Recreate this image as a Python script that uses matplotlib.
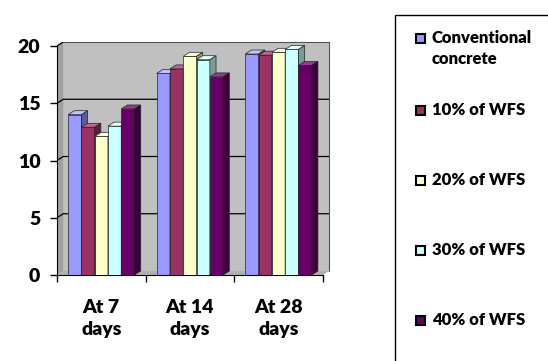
import matplotlib.pyplot as plt
from matplotlib.patches import Polygon, Rectangle

plt.rcParams['font.family'] = ['Lato', 'DejaVu Sans']
plt.rcParams['font.weight'] = 'heavy'

categories = ['At 7\ndays', 'At 14\ndays', 'At 28\ndays']
series_names = ['Conventional\nconcrete', '10% of WFS', '20% of WFS', '30% of WFS', '40% of WFS']
conventional = [14.0, 17.6, 19.3]
wfs_10 = [12.9, 18.0, 19.2]
wfs_20 = [12.1, 19.1, 19.45]
wfs_30 = [13.0, 18.8, 19.7]
wfs_40 = [14.5, 17.3, 18.3]
series = [conventional, wfs_10, wfs_20, wfs_30, wfs_40]
colors = ['#9999FF', '#993366', '#FFFFCC', '#CCFFFF', '#660066']
tops = ['#C2C2FF', '#B8668F', '#FFFFE6', '#E6FFFF', '#8C408C']
sides = ['#5C5C99', '#5C1F3D', '#99997A', '#7A9999', '#3D003D']

W, H = 548, 361
fig = plt.figure(figsize=(W / 100, H / 100), dpi=100)
ax = fig.add_axes([57 / W, 86 / H, 272 / W, 233 / H])

dx, dy = 0.07, 0.35
ymax = 20 + dy
xmax = 3 + dx
ax.set_xlim(0, xmax)
ax.set_ylim(0, ymax)
ax.set_facecolor('none')

# walls and floor of the 3D box
ax.add_patch(Polygon([(dx, dy), (xmax, dy), (xmax, ymax), (dx, ymax)],
                     closed=True, fc='#C0C0C0', ec='none', zorder=0))
ax.add_patch(Polygon([(0, 0), (dx, dy), (dx, ymax), (0, 20)],
                     closed=True, fc='#A0A0A0', ec='none', zorder=0))
ax.add_patch(Polygon([(0, 0), (3, 0), (xmax, dy), (dx, dy)],
                     closed=True, fc='#B0B0B0', ec='none', zorder=0.5))
for v in [5, 10, 15, 20]:
    ax.plot([0, dx, xmax], [v, v + dy, v + dy], color='#000000', lw=0.9, zorder=1)

bw = 0.15
for g in range(3):
    start = g + 0.5 - bw * len(series) / 2
    for i, vals in enumerate(series):
        x0 = start + i * bw
        h = vals[g]
        z = 2 + i
        ax.bar(x0, h, width=bw, align='edge', color=colors[i],
               edgecolor='#222222', lw=0.5, zorder=z)
        ax.add_patch(Polygon([(x0, h), (x0 + bw, h), (x0 + bw + dx, h + dy), (x0 + dx, h + dy)],
                             closed=True, fc=tops[i], ec='#222222', lw=0.5, zorder=z))
        ax.add_patch(Polygon([(x0 + bw, 0), (x0 + bw + dx, dy), (x0 + bw + dx, h + dy), (x0 + bw, h)],
                             closed=True, fc=sides[i], ec='#222222', lw=0.5, zorder=z))

ax.set_yticks([0, 5, 10, 15, 20])
ax.tick_params(axis='y', direction='out', length=5, width=1, labelsize=14, pad=7)
ax.set_xticks([0, 1, 2, 3])
ax.set_xticklabels([])
ax.tick_params(axis='x', which='major', direction='out', length=5, width=1)
ax.set_xticks([0.5, 1.5, 2.5], minor=True)
ax.set_xticklabels(categories, minor=True, fontsize=14, linespacing=1.35)
ax.tick_params(axis='x', which='minor', length=0, pad=17)

ax.spines['left'].set_bounds(0, 20)
ax.spines['bottom'].set_bounds(0, 3)
ax.spines['top'].set_bounds(dx, xmax)
ax.spines['right'].set_bounds(dy, ymax)
ax.spines['top'].set_color('#555555')
ax.spines['right'].set_color('#555555')

# legend box
fig.patches.append(Rectangle((395 / W, -0.1), 0.5, 1.1 - 15 / H, transform=fig.transFigure,
                             fc='white', ec='black', lw=1))
entry_y = [38, 110, 180, 250, 320]
for name, c, y in zip(series_names, colors, entry_y):
    fig.patches.append(Rectangle((416 / W, 1 - (y + 5) / H), 9 / W, 9 / H,
                                 transform=fig.transFigure, fc=c, ec='black', lw=1.5))
    for k, line in enumerate(name.split('\n')):
        fig.text(432 / W, 1 - (y + 5 + 21 * k) / H, line, fontsize=12,
                 va='baseline', ha='left')

fig.savefig('out.png', dpi=100)
